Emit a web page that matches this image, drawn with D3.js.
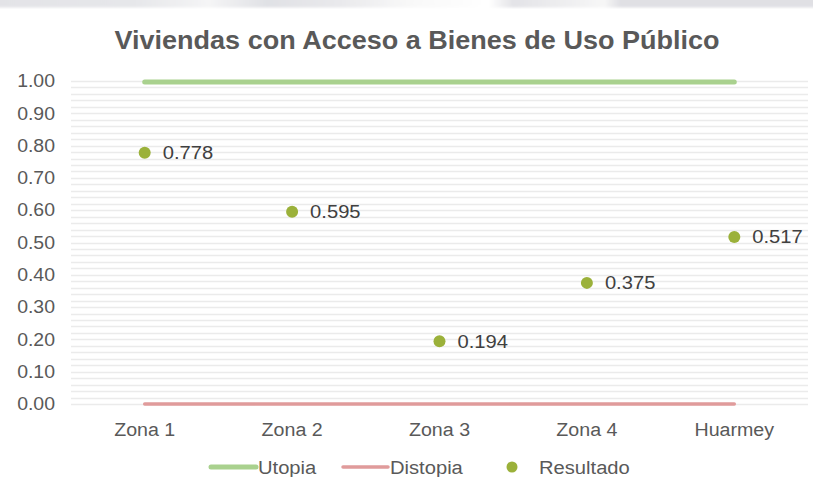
<!DOCTYPE html>
<html>
<head>
<meta charset="utf-8">
<script src="https://cdn.jsdelivr.net/npm/d3@7/dist/d3.min.js"></script>
<style>
  html, body { margin: 0; padding: 0; background: #ffffff; }
  svg { display: block; font-family: "Liberation Sans", Arial, sans-serif; }
</style>
</head>
<body>
<svg id="chart" width="813" height="477"></svg>
<script>
// Chart data
const categories = ["Zona 1", "Zona 2", "Zona 3", "Zona 4", "Huarmey"];
const utopia = [1, 1, 1, 1, 1];
const distopia = [0, 0, 0, 0, 0];
const resultado = [0.778, 0.595, 0.194, 0.375, 0.517];
const yTicks = [0, 0.1, 0.2, 0.3, 0.4, 0.5, 0.6, 0.7, 0.8, 0.9, 1.0];
const title = "Viviendas con Acceso a Bienes de Uso Público";
const legendNames = ["Utopia", "Distopia", "Resultado"];

const svg = d3.select("#chart");
const W = 813, H = 477;
const margin = { left: 71, right: 5, top: 81, bottom: 73 };

const colors = { utopia: "#a9d18e", distopia: "#e09b9b", resultado: "#9bb13a", grid: "#ebebeb", text: "#595959", label: "#404040" };

// widen text slightly (the typeface runs a little broad)
function stretch(sel, k) {
  sel.each(function () {
    const w = this.getComputedTextLength();
    this.setAttribute("textLength", w * k);
    this.setAttribute("lengthAdjust", "spacingAndGlyphs");
  });
}

// faint band along the upper edge
const defs = svg.append("defs");
const grad = defs.append("linearGradient").attr("id", "band");
[[0, "#e3e3e7"], [0.17, "#e6e7ea"], [0.26, "#f5f5f6"], [0.33, "#e0e1e5"], [0.42, "#e9e9ec"], [0.5, "#f8f8f8"], [0.6, "#ffffff"], [0.63, "#e3e3e7"], [0.74, "#f7f7f7"], [0.76, "#e0e0e4"], [1, "#e0e0e4"]]
  .forEach(([o, c]) => grad.append("stop").attr("offset", o).attr("stop-color", c));
defs.append("filter").attr("id", "soft").append("feGaussianBlur").attr("stdDeviation", 1.2);
svg.append("rect").attr("x", -5).attr("y", -5).attr("width", W + 10).attr("height", 12.5)
  .attr("fill", "url(#band)").attr("filter", "url(#soft)");

const x = d3.scaleBand().domain(categories).range([margin.left, W - margin.right]);
const y = d3.scaleLinear().domain([0, 1]).range([H - margin.bottom, margin.top]);
const cx = d => x(d) + x.bandwidth() / 2;

// gridlines every 0.02
const gridVals = d3.range(0, 51).map(i => i / 50);
svg.append("g").selectAll("line").data(gridVals).join("line")
  .attr("x1", margin.left).attr("x2", W - margin.right)
  .attr("y1", d => Math.round(y(d)) + 0.5).attr("y2", d => Math.round(y(d)) + 0.5)
  .attr("stroke", colors.grid).attr("stroke-width", 1.3);

// y axis labels
const yAxis = d3.axisLeft(y).tickValues(yTicks).tickFormat(d3.format(".2f")).tickSize(0).tickPadding(16);
const gy = svg.append("g").attr("transform", `translate(${margin.left},0)`).call(yAxis);
gy.select(".domain").remove();
gy.selectAll("text").attr("fill", colors.text).style("font-size", "18px").style("font-family", "Liberation Sans, Arial, sans-serif");
stretch(gy.selectAll("text"), 1.08);

// x axis labels
const xAxis = d3.axisBottom(x).tickSize(0).tickPadding(19);
const gx = svg.append("g").attr("transform", `translate(0,${H - margin.bottom})`).call(xAxis);
gx.select(".domain").remove();
gx.selectAll("text").attr("fill", colors.text).style("font-size", "18px").style("font-family", "Liberation Sans, Arial, sans-serif");
stretch(gx.selectAll("text"), 1.09);

// utopia and distopia lines
const line = d3.line().x((d, i) => cx(categories[i])).y(d => y(d));
svg.append("path").datum(distopia).attr("d", line).attr("fill", "none")
  .attr("stroke", colors.distopia).attr("stroke-width", 3.5).attr("stroke-linecap", "round");
svg.append("path").datum(utopia).attr("d", line).attr("fill", "none")
  .attr("stroke", colors.utopia).attr("stroke-width", 5).attr("stroke-linecap", "round")
  .attr("transform", "translate(0,1)");

// resultado points and labels
const pts = svg.append("g").selectAll("g").data(resultado).join("g")
  .attr("transform", (d, i) => `translate(${cx(categories[i])},${y(d)})`);
pts.append("circle").attr("r", 6).attr("fill", colors.resultado);
const vl = pts.append("text").attr("x", 18).attr("dy", "0.35em").attr("fill", colors.label)
  .style("font-size", "18px").text(d => d3.format(".3f")(d));
stretch(vl, 1.12);

// title
const t = svg.append("text").attr("x", 417).attr("y", 49).attr("text-anchor", "middle")
  .attr("fill", colors.text).style("font-size", "25px").style("font-weight", "bold")
  .text(title);
stretch(t, 605 / t.node().getComputedTextLength());

// legend
const ly = 468;
const lg = svg.append("g");
lg.append("line").attr("x1", 211).attr("x2", 256).attr("y1", ly - 1).attr("y2", ly - 1)
  .attr("stroke", colors.utopia).attr("stroke-width", 5).attr("stroke-linecap", "round");
lg.append("text").attr("x", 258).attr("y", ly).attr("dy", "0.35em").text(legendNames[0]);
lg.append("line").attr("x1", 343).attr("x2", 388).attr("y1", ly - 1).attr("y2", ly - 1)
  .attr("stroke", colors.distopia).attr("stroke-width", 3.5).attr("stroke-linecap", "round");
lg.append("text").attr("x", 390).attr("y", ly).attr("dy", "0.35em").text(legendNames[1]);
lg.append("circle").attr("cx", 512).attr("cy", ly - 1).attr("r", 5.5).attr("fill", colors.resultado);
lg.append("text").attr("x", 539).attr("y", ly).attr("dy", "0.35em").text(legendNames[2]);
lg.selectAll("text").attr("fill", colors.text).style("font-size", "18px");
stretch(lg.selectAll("text"), 1.12);
</script>
</body>
</html>
